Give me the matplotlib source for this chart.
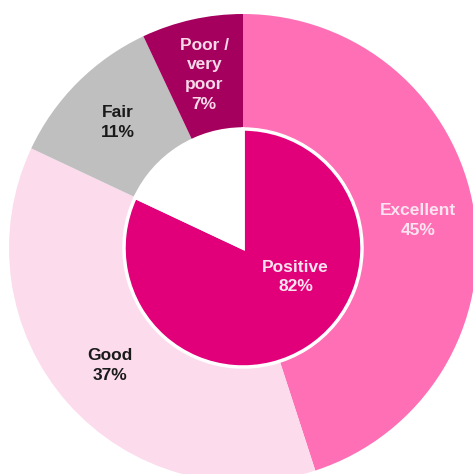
import matplotlib.pyplot as plt
import numpy as np

plt.rcParams['font.family'] = ['Liberation Sans', 'DejaVu Sans']

# outer ring: rating breakdown
ratings = ["Excellent", "Good", "Fair", "Poor /\nvery\npoor"]
rating_pct = [45, 37, 11, 7]
rating_colors = ["#FF6FB5", "#FCDCEC", "#BFBFBF", "#A6005E"]
rating_text = ["#FDE4F0", "#1A1A1A", "#1A1A1A", "#F7D9E8"]

# inner pie: share of positive ratings
inner_labels = ["Positive", ""]
inner_pct = [82, 18]
inner_colors = ["#E2007A", "#FFFFFF"]

R_OUT = 234
R_IN = 119

fig = plt.figure(figsize=(4.73, 4.74), dpi=100)
ax = fig.add_axes([0, 0, 1, 1])

wedges, _ = ax.pie(rating_pct, radius=R_OUT, colors=rating_colors,
                   startangle=90, counterclock=False,
                   wedgeprops=dict(width=R_OUT - R_IN, linewidth=0))

ax.pie(inner_pct, radius=R_IN, colors=inner_colors,
       startangle=90, counterclock=False,
       wedgeprops=dict(edgecolor="white", linewidth=2.5))

# ring labels at the middle of each segment
r_mid = (R_OUT + R_IN) / 2 + 1
for w, name, pct, col in zip(wedges, ratings, rating_pct, rating_text):
    ang = np.deg2rad((w.theta1 + w.theta2) / 2)
    ax.text(r_mid * np.cos(ang), r_mid * np.sin(ang), f"{name}\n{pct}%",
            ha="center", va="center", fontsize=12.5, fontweight="bold",
            color=col, linespacing=1.4)

# label for the positive share
ang = np.deg2rad(-29)
ax.text(60 * np.cos(ang), 60 * np.sin(ang), f"{inner_labels[0]}\n{inner_pct[0]}%",
        ha="center", va="center", fontsize=12.5, fontweight="bold",
        color="#FCE3EF", linespacing=1.4)

ax.set_xlim(-243, 230)
ax.set_ylim(-226, 248)
ax.set_aspect("equal")
ax.axis("off")

fig.savefig("out.png", dpi=100)
plt.close(fig)
